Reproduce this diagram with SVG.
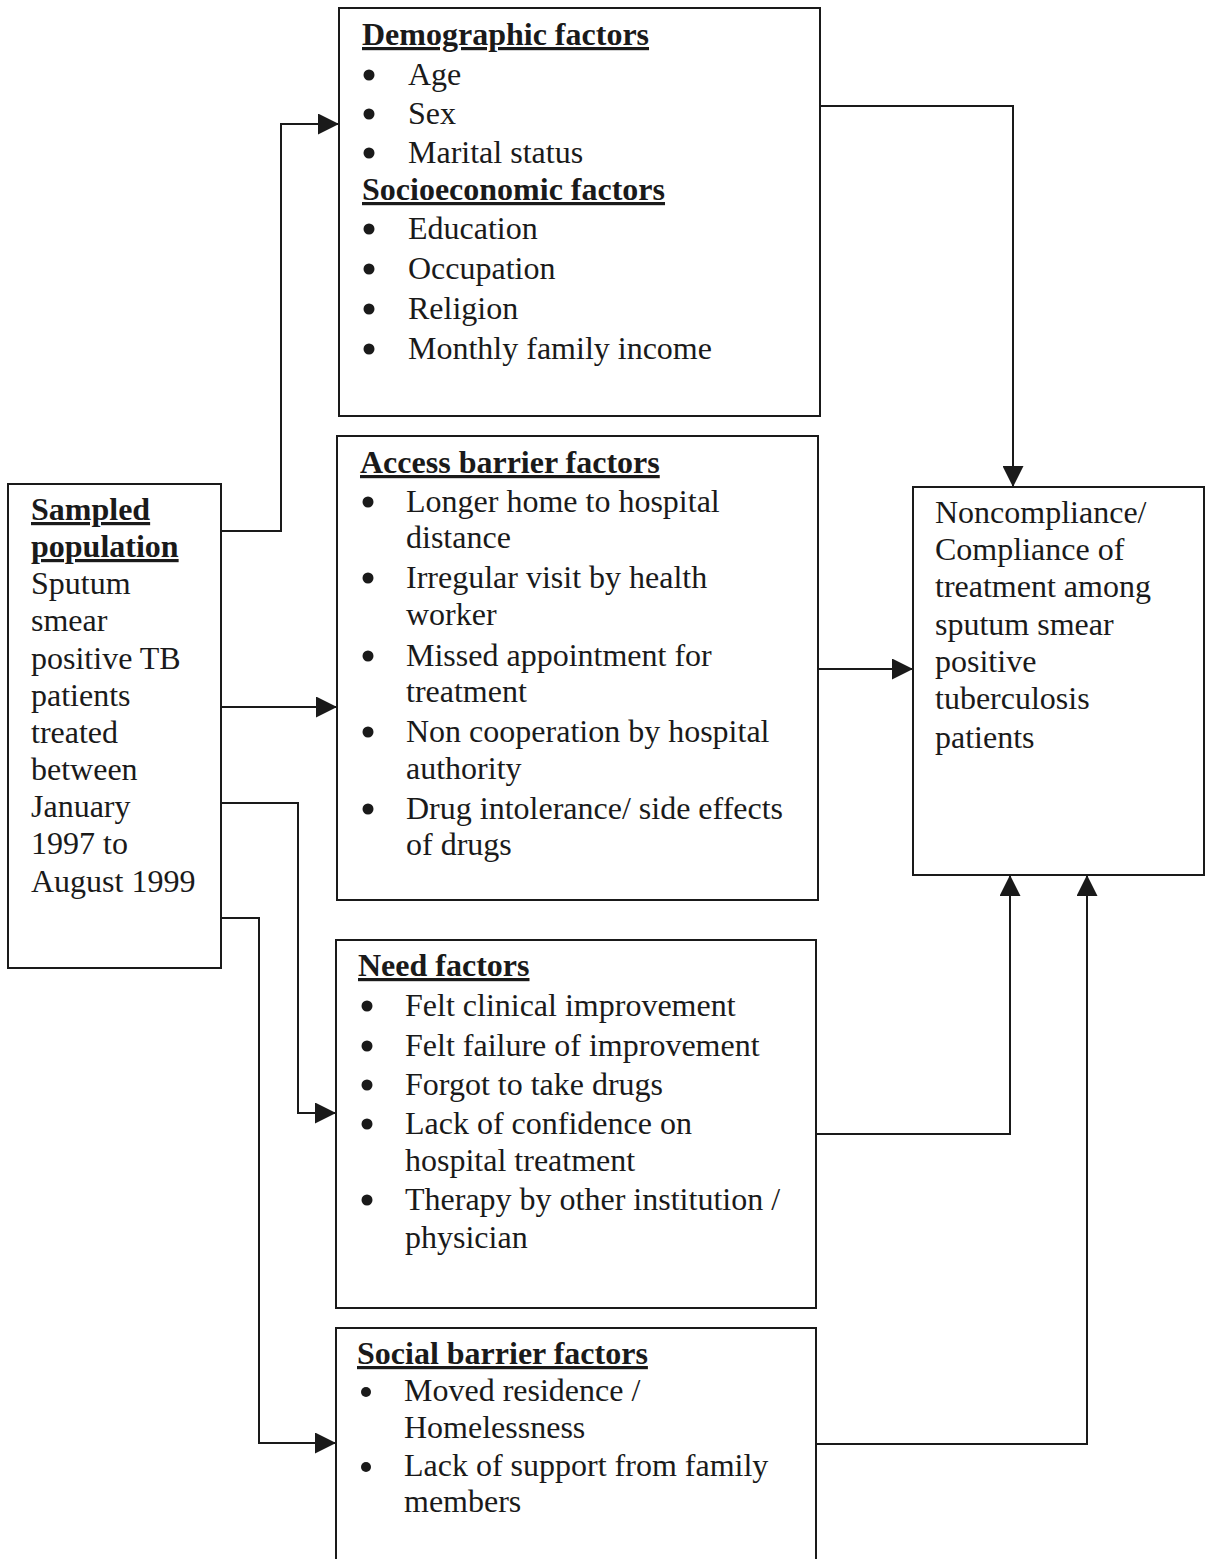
<svg xmlns="http://www.w3.org/2000/svg" width="1206" height="1559" viewBox="0 0 1206 1559">
<style>
.box{fill:#fff;stroke:#1a1a1a;stroke-width:2}
.t{font-family:"Liberation Serif","Times New Roman",serif;font-size:32px;fill:#1a1a1a}
.h{font-weight:bold;text-decoration:underline}
.b{fill:#1a1a1a}
.c{fill:none;stroke:#1a1a1a;stroke-width:2}
</style>
<defs>
<marker id="arr" viewBox="0 0 20 20" refX="20" refY="10" markerWidth="21" markerHeight="21" markerUnits="userSpaceOnUse" orient="auto">
<path d="M0,0 L20,10 L0,20 Z" fill="#1a1a1a"/>
</marker>
</defs>
<rect width="1206" height="1559" fill="#fff"/>

<g id="connectors">
<path class="c" d="M221,531 H281 V124 H339" marker-end="url(#arr)"/>
<path class="c" d="M221,707 H337" marker-end="url(#arr)"/>
<path class="c" d="M221,803 H298 V1113 H336" marker-end="url(#arr)"/>
<path class="c" d="M221,918 H259 V1443 H336" marker-end="url(#arr)"/>
<path class="c" d="M820,106 H1013 V487" marker-end="url(#arr)"/>
<path class="c" d="M818,669 H913" marker-end="url(#arr)"/>
<path class="c" d="M816,1134 H1010 V875" marker-end="url(#arr)"/>
<path class="c" d="M816,1444 H1087 V875" marker-end="url(#arr)"/>
</g>

<g id="sampled">
<rect class="box" x="8" y="484" width="213" height="484"/>
<text class="t h" x="31" y="520">Sampled</text>
<text class="t h" x="31" y="557">population</text>
<text class="t" x="31" y="594">Sputum</text>
<text class="t" x="31" y="631">smear</text>
<text class="t" x="31" y="669">positive TB</text>
<text class="t" x="31" y="706">patients</text>
<text class="t" x="31" y="743">treated</text>
<text class="t" x="31" y="780">between</text>
<text class="t" x="31" y="817">January</text>
<text class="t" x="31" y="854">1997 to</text>
<text class="t" x="31" y="892">August 1999</text>
</g>

<g id="demographic">
<rect class="box" x="339" y="8" width="481" height="408"/>
<text class="t h" x="362" y="45">Demographic factors</text>
<circle class="b" cx="369" cy="75" r="5.5"/><text class="t" x="408" y="85">Age</text>
<circle class="b" cx="369" cy="114" r="5.5"/><text class="t" x="408" y="124">Sex</text>
<circle class="b" cx="369" cy="153" r="5.5"/><text class="t" x="408" y="163">Marital status</text>
<text class="t h" x="362" y="200">Socioeconomic factors</text>
<circle class="b" cx="369" cy="229" r="5.5"/><text class="t" x="408" y="239">Education</text>
<circle class="b" cx="369" cy="269" r="5.5"/><text class="t" x="408" y="279">Occupation</text>
<circle class="b" cx="369" cy="309" r="5.5"/><text class="t" x="408" y="319">Religion</text>
<circle class="b" cx="369" cy="349" r="5.5"/><text class="t" x="408" y="359">Monthly family income</text>
</g>

<g id="access">
<rect class="box" x="337" y="436" width="481" height="464"/>
<text class="t h" x="360" y="473">Access barrier factors</text>
<circle class="b" cx="368" cy="502" r="5.5"/><text class="t" x="406" y="512">Longer home to hospital</text>
<text class="t" x="406" y="548">distance</text>
<circle class="b" cx="368" cy="578" r="5.5"/><text class="t" x="406" y="588">Irregular visit by health</text>
<text class="t" x="406" y="625">worker</text>
<circle class="b" cx="368" cy="656" r="5.5"/><text class="t" x="406" y="666">Missed appointment for</text>
<text class="t" x="406" y="702">treatment</text>
<circle class="b" cx="368" cy="732" r="5.5"/><text class="t" x="406" y="742">Non cooperation by hospital</text>
<text class="t" x="406" y="779">authority</text>
<circle class="b" cx="368" cy="809" r="5.5"/><text class="t" x="406" y="819">Drug intolerance/ side effects</text>
<text class="t" x="406" y="855">of drugs</text>
</g>

<g id="need">
<rect class="box" x="336" y="940" width="480" height="368"/>
<text class="t h" x="358" y="976">Need factors</text>
<circle class="b" cx="367" cy="1006" r="5.5"/><text class="t" x="405" y="1016">Felt clinical improvement</text>
<circle class="b" cx="367" cy="1046" r="5.5"/><text class="t" x="405" y="1056">Felt failure of improvement</text>
<circle class="b" cx="367" cy="1085" r="5.5"/><text class="t" x="405" y="1095">Forgot to take drugs</text>
<circle class="b" cx="367" cy="1124" r="5.5"/><text class="t" x="405" y="1134">Lack of confidence on</text>
<text class="t" x="405" y="1171">hospital treatment</text>
<circle class="b" cx="367" cy="1200" r="5.5"/><text class="t" x="405" y="1210">Therapy by other institution /</text>
<text class="t" x="405" y="1248">physician</text>
</g>

<g id="social">
<rect class="box" x="336" y="1328" width="480" height="250"/>
<text class="t h" x="357" y="1364">Social barrier factors</text>
<circle class="b" cx="366" cy="1392" r="5"/><text class="t" x="404" y="1401">Moved residence /</text>
<text class="t" x="404" y="1438">Homelessness</text>
<circle class="b" cx="366" cy="1467" r="5"/><text class="t" x="404" y="1476">Lack of support from family</text>
<text class="t" x="404" y="1512">members</text>
</g>

<g id="outcome">
<rect class="box" x="913" y="487" width="291" height="388"/>
<text class="t" x="935" y="523">Noncompliance/</text>
<text class="t" x="935" y="560">Compliance of</text>
<text class="t" x="935" y="597">treatment among</text>
<text class="t" x="935" y="635">sputum smear</text>
<text class="t" x="935" y="672">positive</text>
<text class="t" x="935" y="709">tuberculosis</text>
<text class="t" x="935" y="748">patients</text>
</g>
</svg>
